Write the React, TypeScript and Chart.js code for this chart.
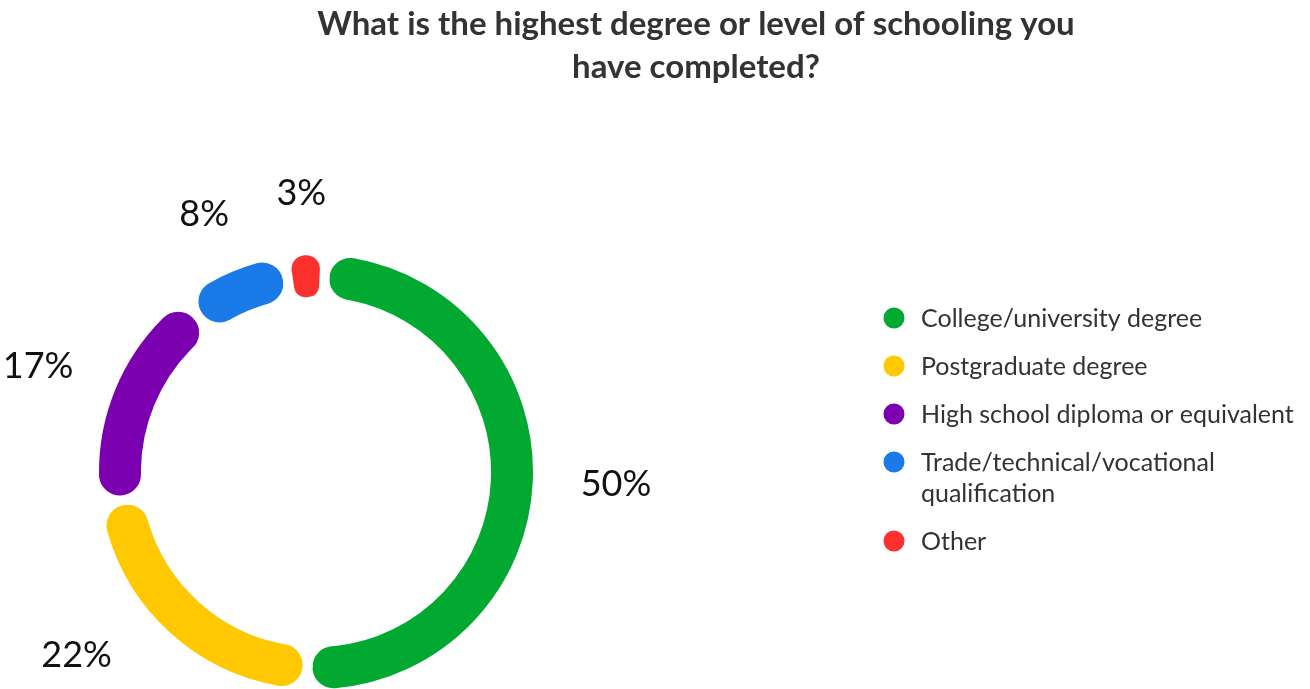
import React, { useEffect, useRef } from 'react';
import { Chart, registerables } from 'chart.js';

Chart.register(...registerables);

const categories = [
  'College/university degree',
  'Postgraduate degree',
  'High school diploma or equivalent',
  'Trade/technical/vocational qualification',
  'Other',
];
const percentages = [50, 22, 17, 8, 3];
const colors = ['#02A930', '#FFC800', '#7B00AF', '#1A7BE8', '#FC302D'];
const titleLines = ['What is the highest degree or level of schooling you', 'have completed?'];

const FONT = 'Lato, "Noto Sans", sans-serif';

const titlePlugin = {
  id: 'customTitle',
  afterDraw(chart: any) {
    const ctx = chart.ctx;
    ctx.save();
    ctx.fillStyle = '#333333';
    ctx.font = `bold 33px ${FONT}`;
    ctx.textAlign = 'center';
    ctx.textBaseline = 'alphabetic';
    titleLines.forEach((line, i) => ctx.fillText(line, 696, 35 + i * 43));
    ctx.restore();
  },
};

function wrap(ctx: CanvasRenderingContext2D, text: string, maxW: number): string[] {
  const words = text.split(' ');
  const lines: string[] = [];
  let cur = '';
  for (const w of words) {
    const t = cur ? cur + ' ' + w : w;
    if (ctx.measureText(t).width > maxW && cur) {
      lines.push(cur);
      cur = w;
    } else cur = t;
  }
  if (cur) lines.push(cur);
  return lines;
}

const legendPlugin = {
  id: 'customLegend',
  afterDraw(chart: any) {
    const ctx = chart.ctx;
    const labels = chart.data.labels as string[];
    const bg = chart.data.datasets[0].backgroundColor as string[];
    ctx.save();
    ctx.font = `25px ${FONT}`;
    ctx.textBaseline = 'middle';
    ctx.textAlign = 'left';
    let y = 318;
    labels.forEach((lab, i) => {
      ctx.fillStyle = bg[i];
      ctx.beginPath();
      ctx.arc(894, y, 10.5, 0, Math.PI * 2);
      ctx.fill();
      ctx.fillStyle = '#333333';
      const lines = wrap(ctx, lab, 400);
      lines.forEach((l, k) => ctx.fillText(l, 921, y + 1 + k * 31));
      y += (lines.length - 1) * 31 + 48;
    });
    ctx.restore();
  },
};

const labelPlugin = {
  id: 'pctLabels',
  afterDatasetsDraw(chart: any) {
    const ctx = chart.ctx;
    const meta = chart.getDatasetMeta(0);
    const data = chart.data.datasets[0].data as number[];
    const R = 265;
    ctx.save();
    ctx.font = `36px ${FONT}`;
    ctx.fillStyle = '#111111';
    ctx.textAlign = 'center';
    ctx.textBaseline = 'middle';
    meta.data.forEach((arc: any, i: number) => {
      const { startAngle, endAngle, x, y } = arc.getProps(['startAngle', 'endAngle', 'x', 'y'], true);
      const mid = (startAngle + endAngle) / 2;
      const text = `${data[i]}%`;
      const w = ctx.measureText(text).width;
      const h = 28;
      const c = Math.cos(mid);
      const s = Math.sin(mid);
      let px = x + R * c + (w / 2) * c;
      let py = y + R * s + (h / 2) * s;
      const maxY = chart.height - 34;
      if (py > maxY) {
        py = maxY;
        const cornerY = py - h / 2;
        const dy = cornerY - y;
        const dx = Math.sqrt(Math.max(R * R - dy * dy, 0)) * Math.sign(c);
        px = x + dx + Math.sign(c) * (w / 2);
      }
      ctx.fillText(text, px, py);
    });
    ctx.restore();
  },
};

export default function App() {
  const ref = useRef<HTMLCanvasElement>(null);
  useEffect(() => {
    document.body.style.margin = '0';
    const chart = new Chart(ref.current!, {
      type: 'doughnut',
      data: {
        labels: categories,
        datasets: [
          {
            data: percentages,
            backgroundColor: colors,
            borderColor: '#ffffff',
            borderWidth: 10,
            borderRadius: 40,
            hoverOffset: 0,
          },
        ],
      },
      options: {
        responsive: true,
        maintainAspectRatio: false,
        animation: false,
        radius: 222,
        cutout: '76.6%',
        rotation: 2.5,
        layout: { padding: { left: 89, right: 767, top: 255, bottom: 0 } },
        plugins: {
          legend: { display: false },
          title: { display: false },
          tooltip: { enabled: false },
        },
      } as any,
      plugins: [titlePlugin, legendPlugin, labelPlugin],
    });
    return () => chart.destroy();
  }, []);
  return (
    <div style={{ position: 'relative', width: 1310, height: 689 }}>
      <canvas ref={ref} />
    </div>
  );
}
